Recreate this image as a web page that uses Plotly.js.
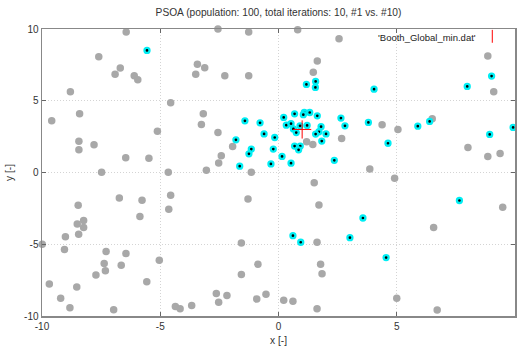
<!DOCTYPE html>
<html>
<head>
<meta charset="utf-8">
<script src="https://cdn.plot.ly/plotly-3.0.1.min.js"></script>
<style>html,body{margin:0;padding:0;background:#fff;}#chart{width:520px;height:348px;}</style>
</head>
<body>
<div id="chart"></div>
<script>
// Iteration #1 particles (gray)
const iter1X = [-6.44,-2.56,-1.26,-7.60,-6.69,-6.91,-6.10,-5.95,-3.43,-3.12,-3.50,-2.27,-1.26,-8.80,-4.56,-9.59,-8.41,-3.18,-3.26,-2.56,
  -5.12,-8.44,-7.80,-8.44,-1.94,-2.42,-6.46,-5.48,-2.53,-3.05,-7.48,-4.66,-1.15,0.81,2.56,1.64,1.47,8.85,9.10,6.50,
  4.38,5.05,2.67,1.19,1.45,8.01,8.85,9.37,3.86,-6.73,-5.77,-8.47,-5.86,-8.24,-8.51,-8.24,-8.45,-9.01,-9.99,-9.05,
  -7.29,-6.45,-7.37,-5.04,-6.65,-7.32,-7.72,-9.69,-8.53,-5.57,-9.21,-8.82,-6.97,-4.56,-4.64,-1.29,-1.57,-0.87,-1.57,-2.63,
  -2.18,-2.53,-0.92,-0.53,-4.36,-4.16,-3.67,4.91,1.51,1.71,1.63,1.78,1.84,0.22,0.61,1.63,5.00,6.71,9.48,6.56];
const iter1Y = [9.79,10.0,9.79,8.07,7.28,6.84,6.74,6.46,7.54,7.30,6.84,6.74,6.74,5.62,4.86,3.60,4.09,4.09,3.35,2.79,
  2.88,2.18,1.93,1.58,1.81,1.16,1.02,1.00,0.67,0.16,0.02,0.02,0.02,9.95,9.32,7.77,6.98,8.12,5.62,3.74,
  3.32,3.00,2.37,2.14,1.95,1.74,1.12,1.33,0.24,-1.77,-1.93,-2.28,-3.07,-3.35,-3.59,-3.84,-4.31,-4.47,-5.00,-5.37,
  -5.51,-5.65,-6.35,-6.11,-6.47,-6.84,-7.15,-7.77,-7.98,-7.61,-8.77,-9.42,-9.56,-1.58,-2.56,-1.84,-4.91,-6.40,-7.10,-8.44,
  -8.58,-9.05,-8.82,-8.49,-9.33,-9.49,-9.26,-0.40,-0.72,-2.26,-4.86,-6.40,-7.05,-8.91,-8.98,-9.49,-8.77,-9.59,-2.42,-3.84];

// Iteration #10 particles (cyan with black centre)
const iter10X = [-5.56,-1.42,-0.78,-1.80,-1.15,-1.25,-1.64,-0.61,-0.16,-0.22,0.15,-0.32,0.53,1.18,1.57,1.56,4.04,7.98,9.01,0.22,
  0.68,1.09,1.32,1.05,1.64,0.33,0.53,0.63,0.75,0.91,1.21,1.80,1.71,1.57,2.01,1.83,2.64,2.81,3.80,5.89,
  6.39,4.63,0.68,0.92,0.85,2.36,8.93,9.92,3.57,0.61,0.94,3.02,4.55,7.65];
const iter10Y = [8.51,3.60,3.46,2.28,1.63,1.30,0.44,2.69,2.44,1.63,1.12,0.60,0.65,6.14,6.35,5.93,5.81,6.00,6.72,3.84,
  4.09,4.18,4.18,4.03,3.95,3.30,3.40,3.04,2.78,3.25,3.28,3.19,2.84,2.68,2.69,2.19,3.79,3.25,3.49,3.23,
  3.56,2.04,1.84,1.84,1.58,0.85,2.65,3.14,-3.17,-4.40,-4.86,-4.54,-5.93,-1.95];

// Booth function global minimum
const minX = [1];
const minY = [3];

const titleText = 'PSOA (population: 100, total iterations: 10, #1 vs. #10)';
const legendText = "'Booth_Global_min.dat'";
const tickVals = [-10,-5,0,5,10];
const tickText = ['-10','-5','0','5','10'];

const FONT = 'Liberation Sans, Arial, sans-serif';

const traces = [
  {x: iter1X, y: iter1Y, type: 'scatter', mode: 'markers', cliponaxis: false,
   marker: {size: 7.5, color: '#a8a8a8', line: {width: 0}}, showlegend: false, hoverinfo: 'x+y'},
  {x: iter10X, y: iter10Y, type: 'scatter', mode: 'markers', cliponaxis: false,
   marker: {size: 5, color: '#000000', line: {width: 2.3, color: '#00eef4'}}, showlegend: false, hoverinfo: 'x+y'},
  {x: minX, y: minY, type: 'scatter', mode: 'markers',
   marker: {symbol: 'cross-thin', size: 13, line: {width: 1, color: '#ff0000'}}, showlegend: false}
];

const axisBase = {
  range: [-10, 10], tickvals: tickVals, ticktext: tickText, zeroline: false,
  showgrid: true, gridcolor: '#d4d4d4', griddash: '1px,2px', gridwidth: 1,
  showline: true, linecolor: '#888888', linewidth: 1.5, mirror: 'ticks',
  ticks: 'inside', ticklen: 4, tickcolor: '#666666', tickwidth: 1,
  tickfont: {family: FONT, size: 10, color: '#333333'}
};

const layout = {
  width: 520, height: 348,
  margin: {l: 42, r: 5, t: 29, b: 32, pad: 0},
  paper_bgcolor: '#ffffff', plot_bgcolor: '#ffffff',
  title: {text: titleText, x: 0.5, xref: 'paper', y: 0.965, yref: 'container', yanchor: 'middle',
          font: {family: FONT, size: 10.2, color: '#333333'}},
  xaxis: Object.assign({}, axisBase, {title: {text: 'x [-]', standoff: 6, font: {family: FONT, size: 10.2, color: '#333333'}}}),
  yaxis: Object.assign({}, axisBase, {title: {text: 'y [-]', standoff: 8, font: {family: FONT, size: 10.2, color: '#333333'}}}),
  annotations: [
    {text: legendText, xref: 'paper', yref: 'paper', x: 0.921, y: 0.972, xanchor: 'right', yanchor: 'middle',
     showarrow: false, font: {family: FONT, size: 9.5, color: '#222222'}}
  ],
  shapes: [
    {type: 'line', xref: 'paper', yref: 'paper', x0: 0.952, x1: 0.952, y0: 0.952, y1: 0.997,
     line: {color: '#ff0000', width: 1}}
  ]
};

Plotly.newPlot('chart', traces, layout, {displayModeBar: false, staticPlot: true});
</script>
</body>
</html>
